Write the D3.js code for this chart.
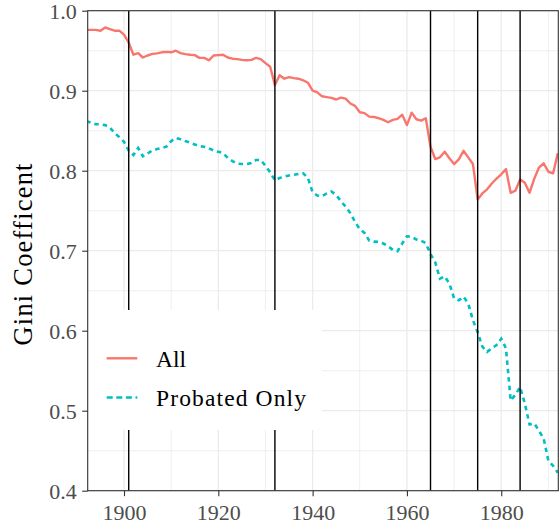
<!DOCTYPE html>
<html><head><meta charset="utf-8">
<script src="https://cdn.jsdelivr.net/npm/d3@7"></script>
<style>html,body{margin:0;padding:0;background:#fff;}svg{display:block;}</style>
</head><body>
<script>
const years = d3.range(1892, 1993);
const allGini = [
0.976,0.976,0.976,0.975,0.979,0.977,0.975,0.975,0.970,0.960,
0.945,0.947,0.9415,0.944,0.946,0.9466,0.948,0.9486,0.948,0.950,
0.947,0.9457,0.945,0.9445,0.941,0.941,0.938,0.944,0.9445,0.945,
0.9415,0.940,0.9395,0.9386,0.938,0.9386,0.941,0.9395,0.9345,0.930,
0.907,0.9194,0.915,0.917,0.9157,0.915,0.913,0.910,0.900,0.898,
0.893,0.892,0.891,0.889,0.8914,0.890,0.884,0.881,0.873,0.872,
0.8676,0.8672,0.8656,0.8635,0.8606,0.8635,0.8647,0.870,0.857,0.8726,
0.8643,0.8626,0.8656,0.830,0.8146,0.8167,0.8238,0.8155,0.8083,0.8142,
0.825,0.8167,0.8083,0.764,0.7716,0.7767,0.784,0.790,0.7955,0.802,
0.7724,0.775,0.789,0.785,0.7724,0.790,0.804,0.8092,0.7987,0.7967,
0.8217];
const probatedGini = [
0.862,0.860,0.858,0.858,0.857,0.854,0.847,0.842,0.836,0.825,
0.8196,0.8284,0.818,0.8215,0.8253,0.827,0.8284,0.830,0.837,0.841,
0.8393,0.837,0.835,0.8328,0.8306,0.830,0.828,0.8253,0.8236,0.822,
0.816,0.812,0.809,0.8083,0.8083,0.8096,0.8134,0.8134,0.806,0.798,
0.788,0.7908,0.7927,0.794,0.795,0.7958,0.7967,0.791,0.773,0.769,
0.7683,0.7716,0.774,0.7695,0.762,0.755,0.747,0.736,0.727,0.7223,
0.7125,0.7113,0.711,0.709,0.7056,0.701,0.6994,0.709,0.718,0.7176,
0.714,0.7125,0.7094,0.6956,0.6856,0.665,0.668,0.659,0.6405,0.638,
0.6425,0.634,0.613,0.598,0.580,0.5735,0.578,0.582,0.590,0.578,
0.5127,0.520,0.5296,0.509,0.4827,0.484,0.475,0.465,0.4375,0.431,
0.4225];
const eventYears = [1901, 1932, 1965, 1975, 1984];
const xTicks = [1900, 1920, 1940, 1960, 1980];
const xMinor = [1910, 1930, 1950, 1970, 1990];
const yTicks = [0.4, 0.5, 0.6, 0.7, 0.8, 0.9, 1.0];
const yMinor = [0.45, 0.55, 0.65, 0.75, 0.85, 0.95];
const seriesNames = ["All", "Probated Only"];
const seriesColors = ["#F8766D", "#00BFC4"];
const yTitle = "Gini Coefficent";

const W = 560, H = 529;
const L = 87.7, R = 558.3, T = 10.7, B = 490.7;
const FONT = "'Liberation Serif', 'Times New Roman', serif";

const svg = d3.select("body").append("svg").attr("width", W).attr("height", H);
const x = d3.scaleLinear().domain([1892.3, 1992.1]).range([L, R]);
const y = d3.scaleLinear().domain([0.4, 1.0]).range([B, T]);

svg.append("defs").append("clipPath").attr("id", "clip")
  .append("rect").attr("x", L).attr("y", T).attr("width", R - L).attr("height", B - T);

const g = svg.append("g");
g.selectAll(".xmin").data(xMinor).join("line")
  .attr("x1", d => x(d)).attr("x2", d => x(d)).attr("y1", T).attr("y2", B)
  .attr("stroke", "#EBEBEB").attr("stroke-width", 0.8);
g.selectAll(".ymin").data(yMinor).join("line")
  .attr("y1", d => y(d)).attr("y2", d => y(d)).attr("x1", L).attr("x2", R)
  .attr("stroke", "#EBEBEB").attr("stroke-width", 0.8);
g.selectAll(".xmaj").data(xTicks).join("line")
  .attr("x1", d => x(d)).attr("x2", d => x(d)).attr("y1", T).attr("y2", B)
  .attr("stroke", "#EBEBEB").attr("stroke-width", 1.3);
g.selectAll(".ymaj").data(yTicks).join("line")
  .attr("y1", d => y(d)).attr("y2", d => y(d)).attr("x1", L).attr("x2", R)
  .attr("stroke", "#EBEBEB").attr("stroke-width", 1.3);

const clipG = svg.append("g").attr("clip-path", "url(#clip)");
const line = d3.line().x(d => x(d[0])).y(d => y(d[1]));
const dataAll = years.map((yr, i) => [yr, allGini[i]]);
const dataProb = years.map((yr, i) => [yr, probatedGini[i]]);

clipG.append("path").datum(dataAll).attr("d", line)
  .attr("fill", "none").attr("stroke", seriesColors[0]).attr("stroke-width", 2.4)
  .attr("stroke-linejoin", "round");
clipG.append("path").datum(dataProb).attr("d", line)
  .attr("fill", "none").attr("stroke", seriesColors[1]).attr("stroke-width", 2.6)
  .attr("stroke-dasharray", "4.5,4");

clipG.selectAll(".ev").data(eventYears).join("line")
  .attr("x1", d => x(d)).attr("x2", d => x(d)).attr("y1", T).attr("y2", B)
  .attr("stroke", "#000").attr("stroke-width", 1.4);

const lg = svg.append("g");
lg.append("rect").attr("x", L).attr("y", 310).attr("width", 322 - L).attr("height", 120).attr("fill", "#fff");
const keyY = [358.3, 397.5];
seriesNames.forEach((name, i) => {
  const ln = lg.append("line").attr("x1", 106.7).attr("x2", 137.3).attr("y1", keyY[i]).attr("y2", keyY[i])
    .attr("stroke", seriesColors[i]).attr("stroke-width", 2.4);
  if (i === 1) ln.attr("stroke-dasharray", "6,3.6").attr("stroke-width", 2.6);
  const t = lg.append("text").attr("x", 156).attr("y", keyY[i] + 8.5)
    .attr("font-family", FONT).attr("font-size", 23.5).attr("fill", "#000").text(name);
  if (i === 1) t.attr("textLength", 150).attr("lengthAdjust", "spacing");
});

svg.append("rect").attr("x", L).attr("y", T).attr("width", R - L).attr("height", B - T)
  .attr("fill", "none").attr("stroke", "#333333").attr("stroke-width", 1.1);

const xAxis = svg.append("g").attr("transform", `translate(0,${B})`)
  .call(d3.axisBottom(x).tickValues(xTicks).tickFormat(d3.format("d")).tickSize(5.5).tickPadding(5));
const yAxis = svg.append("g").attr("transform", `translate(${L},0)`)
  .call(d3.axisLeft(y).tickValues(yTicks).tickFormat(d3.format(".1f")).tickSize(5.5).tickPadding(5));
[xAxis, yAxis].forEach(a => {
  a.select(".domain").remove();
  a.selectAll(".tick line").attr("stroke", "#333333").attr("stroke-width", 1.1);
  a.selectAll(".tick text").attr("font-family", FONT).attr("font-size", 22).attr("fill", "#4D4D4D");
});
xAxis.selectAll(".tick text").attr("dy", null).attr("y", 29.3);
yAxis.selectAll(".tick text").attr("dy", null).attr("y", 7.5).attr("x", -11);

svg.append("text").attr("transform", `translate(32,254.5) rotate(-90)`)
  .attr("text-anchor", "middle").attr("font-family", FONT).attr("font-size", 26.5)
  .attr("fill", "#000").attr("textLength", 182).attr("lengthAdjust", "spacing").text(yTitle);
</script>
</body></html>
